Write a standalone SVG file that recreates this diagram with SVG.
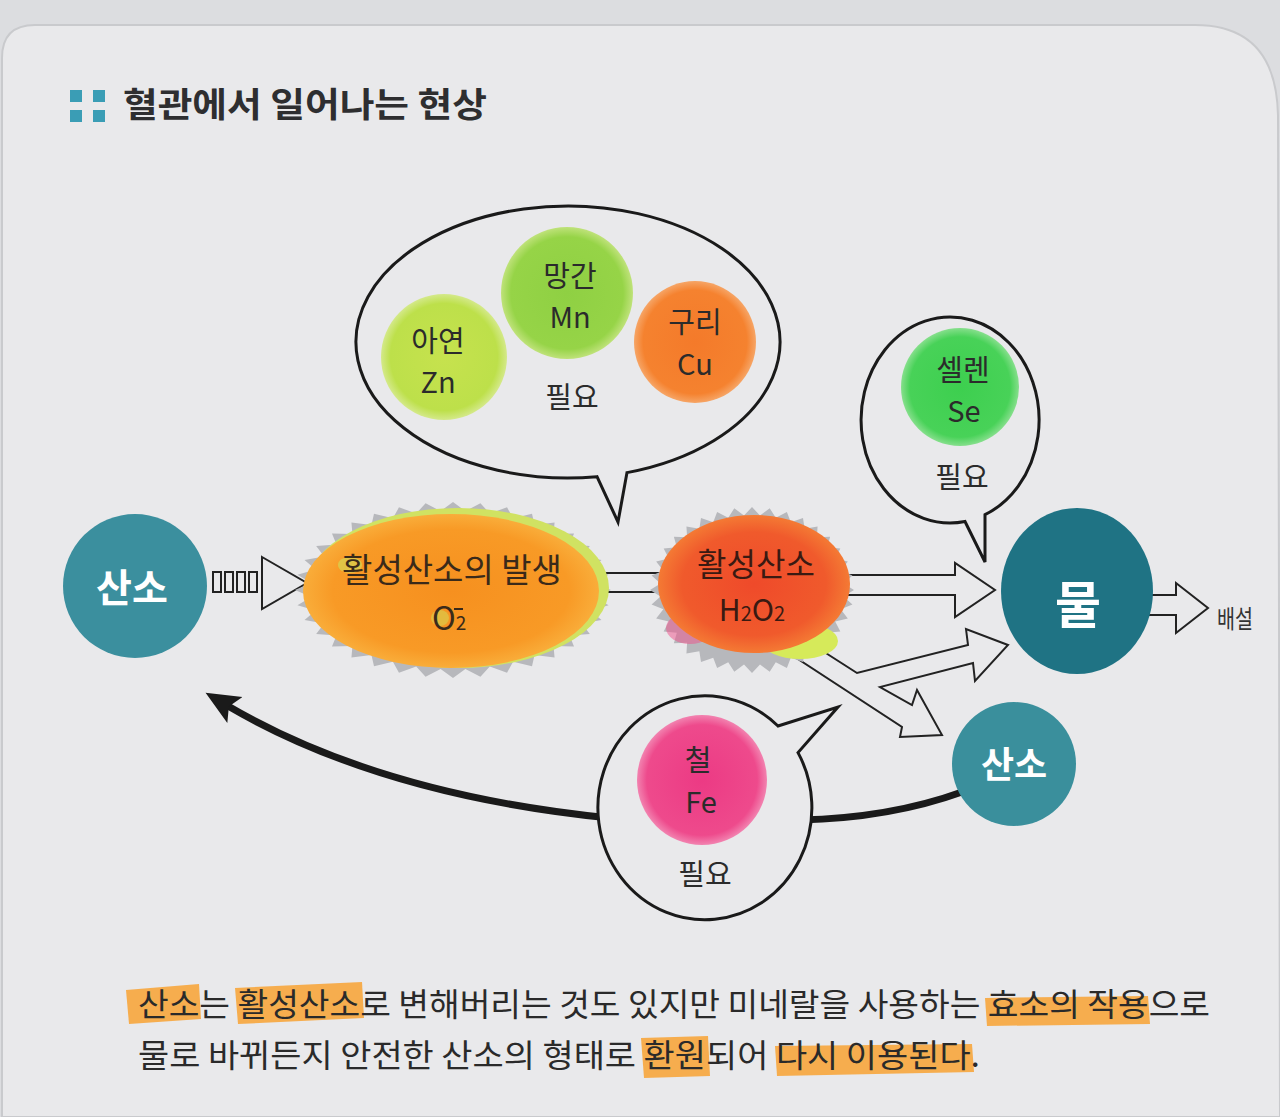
<svg xmlns="http://www.w3.org/2000/svg" xmlns:xlink="http://www.w3.org/1999/xlink" width="1280" height="1117" viewBox="0 0 1280 1117">
<style>
.t{font-family:'Noto Sans CJK KR','Noto Sans',sans-serif;}
.lbl{font-size:29px;fill:#2b2b2b;text-anchor:middle;}
.wt{fill:#ffffff;font-weight:700;text-anchor:middle;}
.bub{fill:#e9e9eb;stroke:#1a1a1a;stroke-width:3;stroke-linejoin:miter;}
.hol{fill:#e9e9eb;stroke:#222;stroke-width:2;stroke-linejoin:miter;}
.hl{fill:#f8a232;opacity:0.85;}
.spk{fill:#b7b8bc;}
</style>
<defs>
<polygon id="star" points="100,0 89.66,7.84 98.48,17.36 86.93,23.29 93.97,34.2 81.57,38.03 86.6,50 73.73,51.62 76.6,64.28 63.64,63.64 64.28,76.6 51.62,73.73 50,86.6 38.03,81.57 34.2,93.97 23.29,86.93 17.36,98.48 7.84,89.66 0,100 -7.84,89.66 -17.36,98.48 -23.29,86.93 -34.2,93.97 -38.03,81.57 -50,86.6 -51.62,73.73 -64.28,76.6 -63.64,63.64 -76.6,64.28 -73.73,51.62 -86.6,50 -81.57,38.03 -93.97,34.2 -86.93,23.29 -98.48,17.36 -89.66,7.84 -100,0 -89.66,-7.84 -98.48,-17.36 -86.93,-23.29 -93.97,-34.2 -81.57,-38.03 -86.6,-50 -73.73,-51.62 -76.6,-64.28 -63.64,-63.64 -64.28,-76.6 -51.62,-73.73 -50,-86.6 -38.03,-81.57 -34.2,-93.97 -23.29,-86.93 -17.36,-98.48 -7.84,-89.66 0,-100 7.84,-89.66 17.36,-98.48 23.29,-86.93 34.2,-93.97 38.03,-81.57 50,-86.6 51.62,-73.73 64.28,-76.6 63.64,-63.64 76.6,-64.28 73.73,-51.62 86.6,-50 81.57,-38.03 93.97,-34.2 86.93,-23.29 98.48,-17.36 89.66,-7.84"/>
<radialGradient id="gZn" cx="0.5" cy="0.5" r="0.5"><stop offset="0" stop-color="#c6e24e"/><stop offset="0.85" stop-color="#bde04a"/><stop offset="1" stop-color="#d4e98a"/></radialGradient>
<radialGradient id="gMn" cx="0.5" cy="0.5" r="0.5"><stop offset="0" stop-color="#8fd043"/><stop offset="0.85" stop-color="#96d447"/><stop offset="1" stop-color="#bfe27a"/></radialGradient>
<radialGradient id="gCu" cx="0.5" cy="0.5" r="0.5"><stop offset="0" stop-color="#f47a2a"/><stop offset="0.85" stop-color="#f5822f"/><stop offset="1" stop-color="#f6a566"/></radialGradient>
<radialGradient id="gSe" cx="0.5" cy="0.5" r="0.5"><stop offset="0" stop-color="#3dcf4f"/><stop offset="0.85" stop-color="#48d258"/><stop offset="1" stop-color="#86df8c"/></radialGradient>
<radialGradient id="gFe" cx="0.5" cy="0.5" r="0.5"><stop offset="0" stop-color="#ec3a84"/><stop offset="0.85" stop-color="#ee4a8c"/><stop offset="1" stop-color="#f283b0"/></radialGradient>
<radialGradient id="gB1" cx="0.5" cy="0.5" r="0.5"><stop offset="0" stop-color="#f6901f"/><stop offset="0.8" stop-color="#f89a26"/><stop offset="1" stop-color="#f9ad3a"/></radialGradient>
<radialGradient id="gB2" cx="0.5" cy="0.5" r="0.5"><stop offset="0" stop-color="#ef4a2a"/><stop offset="0.75" stop-color="#f05a2c"/><stop offset="1" stop-color="#f47a34"/></radialGradient>
<marker id="head" markerUnits="userSpaceOnUse" markerWidth="36" markerHeight="32" viewBox="0 0 36 32" refX="8" refY="15" orient="auto">
<path d="M0,0 L34,15 L0,30 L7,15 Z" fill="#1a1a1a"/>
</marker>
</defs>

<!-- background & panel -->
<rect x="0" y="0" width="1280" height="1117" fill="#dcdde0"/>
<path d="M2,1117 L2,58 Q2,25 35,25 L1195,25 Q1276,25 1278,115 L1280,1117 Z" fill="#e9e9eb" stroke="#c9cacd" stroke-width="2"/>

<!-- title -->
<g id="title">
<rect x="70" y="90" width="12" height="12" fill="#3a9db5"/>
<rect x="93" y="90" width="12" height="12" fill="#3a9db5"/>
<rect x="70" y="110" width="12" height="12" fill="#3a9db5"/>
<rect x="93" y="110" width="12" height="12" fill="#3a9db5"/>
<text class="t" x="123" y="117" font-size="34" font-weight="700" fill="#2e2e30" textLength="364" lengthAdjust="spacingAndGlyphs">혈관에서 일어나는 현상</text>
</g>

<!-- connectors -->
<g id="connectors">
<g fill="#e9e9eb" stroke="#222" stroke-width="2">
<rect x="213" y="572" width="8" height="20"/>
<rect x="225" y="572" width="8" height="20"/>
<rect x="237" y="572" width="8" height="20"/>
<rect x="249" y="572" width="8" height="20"/>
</g>
<polygon class="hol" points="262,557 307,583 262,609"/>
<line x1="590" y1="573" x2="680" y2="573" stroke="#222" stroke-width="2"/>
<line x1="590" y1="592" x2="680" y2="592" stroke="#222" stroke-width="2"/>
<polygon class="hol" points="830,575 955,575 955,563 995,590 955,617 955,595 830,595"/>
<polygon class="hol" points="793,632 857,673 968,645 966,629 1008,645 975,681 973,663 880,687 912,705 917,690 942,735 900,737 902,727 775,644"/>
<polygon class="hol" points="1140,595 1176,595 1176,583 1208,608 1176,633 1176,615 1140,615"/>
<path d="M962,792 Q890,818 800,820 L610,818 Q380,795 228,706" fill="none" stroke="#1a1a1a" stroke-width="7" marker-end="url(#head)"/>
</g>

<!-- left oxygen -->
<g id="oxygen-left">
<circle cx="135" cy="586" r="72" fill="#3b8f9e"/>
<text class="t wt" x="132" y="602" font-size="39">산소</text>
</g>

<!-- blob 1 -->
<g id="ros-generation">
<use href="#star" class="spk" transform="translate(453,590) scale(1.58,0.88)"/>
<ellipse cx="458" cy="588" rx="151" ry="80" fill="#d0e262"/>
<ellipse cx="451" cy="591" rx="148" ry="77" fill="url(#gB1)"/>
<ellipse cx="350" cy="565" rx="12" ry="8" fill="#cfe05a" opacity="0.6"/>
<ellipse cx="440" cy="618" rx="9" ry="8" fill="#cfe05a" opacity="0.5"/>
<text class="t" x="452" y="582" font-size="33" fill="#3a2a1a" text-anchor="middle">활성산소의 발생</text>
<text class="t" x="432" y="630" font-size="32" fill="#3a2a1a">O<tspan font-size="19">2</tspan></text>
<line x1="454" y1="609" x2="463" y2="609" stroke="#3a2a1a" stroke-width="2"/>
</g>

<!-- blob 2 -->
<g id="ros-h2o2">
<use href="#star" class="spk" transform="translate(752,590) scale(1.02,0.83)"/>
<ellipse cx="800" cy="641" rx="38" ry="18" fill="#d6ea5a"/>
<ellipse cx="690" cy="628" rx="24" ry="16" fill="#f0508a" opacity="0.5"/>
<ellipse cx="754" cy="584" rx="96" ry="69" fill="url(#gB2)"/>
<text class="t" x="756" y="576" font-size="32" fill="#3a1a12" text-anchor="middle">활성산소</text>
<text class="t" x="752" y="621" font-size="30" fill="#3a1a12" text-anchor="middle">H<tspan font-size="20">2</tspan>O<tspan font-size="20">2</tspan></text>
</g>

<!-- water -->
<g id="water">
<ellipse cx="1077" cy="591" rx="76" ry="83" fill="#1f7384"/>
<text class="t wt" x="1078" y="623" font-size="50">물</text>
</g>
<g id="excretion">
<text class="t" x="1217" y="628" font-size="25" fill="#333" textLength="36" lengthAdjust="spacingAndGlyphs">배설</text>
</g>

<!-- lower oxygen -->
<g id="oxygen-right">
<circle cx="1014" cy="764" r="62" fill="#3a8f9c"/>
<text class="t wt" x="1014" y="778" font-size="36">산소</text>
</g>

<!-- top bubble -->
<g id="bubble-zn-mn-cu">
<path class="bub" d="M597,476.7 A212 136 0 1 1 627,472.6 L618,522 Z"/>
<circle cx="444" cy="357" r="63" fill="url(#gZn)"/>
<text class="t lbl" x="438" y="352">아연</text>
<text class="t lbl" x="438" y="393">Zn</text>
<circle cx="567" cy="293" r="66" fill="url(#gMn)"/>
<text class="t lbl" x="570" y="287">망간</text>
<text class="t lbl" x="570" y="328">Mn</text>
<circle cx="695" cy="342" r="61" fill="url(#gCu)"/>
<text class="t lbl" x="695" y="333">구리</text>
<text class="t lbl" x="695" y="375">Cu</text>
<text class="t lbl" x="572" y="408">필요</text>
</g>

<!-- selenium bubble -->
<g id="bubble-se">
<path class="bub" d="M965,521.5 A89 103 0 1 1 985,514.7 L985,562 Z"/>
<circle cx="960" cy="387" r="59" fill="url(#gSe)"/>
<text class="t lbl" x="963" y="381">셀렌</text>
<text class="t lbl" x="964" y="422">Se</text>
<text class="t lbl" x="962" y="488">필요</text>
</g>

<!-- iron bubble -->
<g id="bubble-fe">
<path class="bub" d="M778,726 L838,707 L798,752.6 A107 112 0 1 1 778,726 Z"/>
<circle cx="702" cy="780" r="65" fill="url(#gFe)"/>
<text class="t lbl" x="698" y="771">철</text>
<text class="t lbl" x="701" y="813">Fe</text>
<text class="t lbl" x="705" y="885">필요</text>
</g>

<!-- caption -->
<g id="caption">
<path class="hl" d="M126,990 L199,984 L201,1019 L129,1024 Z"/>
<path class="hl" d="M235,988 L362,982 L364,1018 L238,1024 Z"/>
<path class="hl" d="M985,998 L1148,996 L1150,1024 L987,1026 Z"/>
<path class="hl" d="M641,1038 L708,1036 L710,1076 L644,1078 Z"/>
<path class="hl" d="M775,1046 L972,1044 L974,1072 L777,1076 Z"/>
<text class="t" x="138" y="1016" font-size="32" fill="#2a2a2a" textLength="1072" lengthAdjust="spacingAndGlyphs">산소는 활성산소로 변해버리는 것도 있지만 미네랄을 사용하는 효소의 작용으로</text>
<text class="t" x="138" y="1067" font-size="32" fill="#2a2a2a" textLength="842" lengthAdjust="spacingAndGlyphs">물로 바뀌든지 안전한 산소의 형태로 환원되어 다시 이용된다.</text>
</g>
</svg>
